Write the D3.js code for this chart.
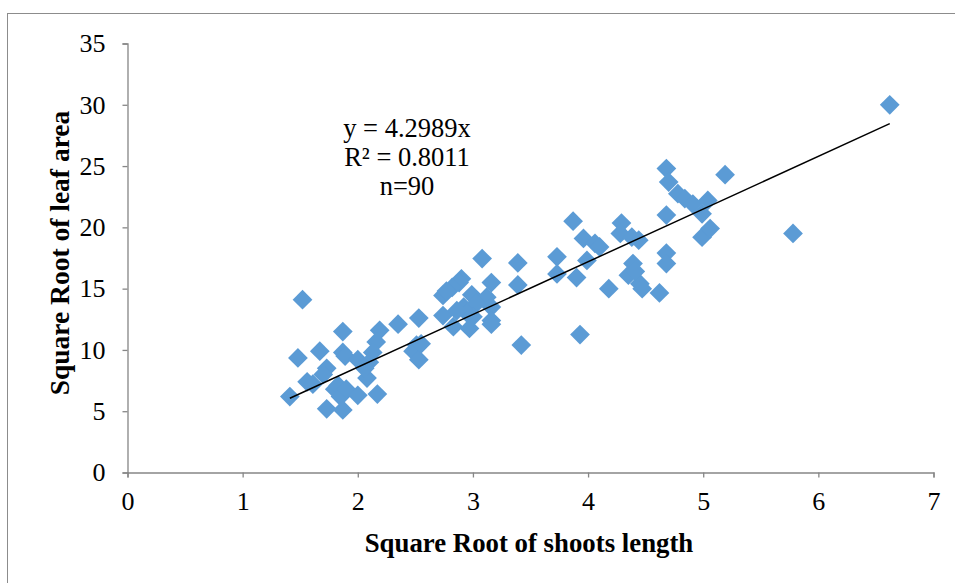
<!DOCTYPE html>
<html><head><meta charset="utf-8">
<script src="https://cdn.jsdelivr.net/npm/d3@7"></script>
<style>
html,body{margin:0;padding:0;background:#fff;}
svg{display:block;}
text{font-family:"Liberation Serif","Times New Roman",serif;fill:#000;}
</style></head>
<body><svg id="chart" width="955" height="583"></svg>
<script>
// Data: square root of shoots length (x) vs square root of leaf area (y)
const xValues = [1.41,1.52,1.48,1.56,1.61,1.67,1.73,1.70,1.73,1.80,1.87,1.87,1.89,1.87,1.83,1.85,1.90,2.00,2.17,2.08,2.00,2.19,2.16,2.13,2.10,2.06,2.35,2.53,2.51,2.48,2.53,2.55,
 2.74,2.74,3.08,3.39,3.16,3.39,2.90,2.88,2.82,2.77,2.99,3.12,2.92,3.03,3.16,2.83,2.97,3.00,3.16,3.16,3.42,2.95,
 3.73,3.73,3.87,4.29,4.68,4.28,4.38,4.44,3.96,4.06,4.10,3.99,3.90,4.18,4.39,4.35,4.45,4.47,4.68,4.68,4.62,3.93,4.99,5.06,4.99,4.68,4.70,5.19,4.78,4.84,4.91,5.04,5.78,6.62,4.41,2.86];
const yValues = [6.2,14.1,9.35,7.4,7.2,9.9,8.5,8.0,5.2,6.8,11.5,9.8,9.5,5.1,7.1,6.2,6.8,6.3,6.4,7.7,9.2,11.6,10.65,9.8,9.0,8.5,12.1,12.6,10.4,9.9,9.2,10.5,
 14.45,12.8,17.45,17.1,15.5,15.3,15.8,15.5,15.1,14.8,14.5,14.3,13.5,13.8,13.5,11.9,11.75,12.7,12.4,12.1,10.4,13.0,
 17.6,16.2,20.5,20.35,21.0,19.5,19.2,18.95,19.1,18.7,18.4,17.3,15.9,15.0,17.05,16.1,15.4,15.0,17.9,17.05,14.65,11.25,19.2,19.9,21.1,24.8,23.7,24.3,22.75,22.35,21.9,22.2,19.5,30.0,16.4,13.2];
const slope = 4.2989;
const annotation = ["y = 4.2989x", "R\u00B2 = 0.8011", "n=90"];
const xTicks = [0,1,2,3,4,5,6,7];
const yTicks = [0,5,10,15,20,25,30,35];
const xTitle = "Square Root of shoots length";
const yTitle = "Square Root of leaf area";

const svg = d3.select("#chart");
const axisColor = "#868686";
const pointColor = "#5b9bd5";

// outer chart border
svg.append("rect").attr("x",7.5).attr("y",13.5).attr("width",1000).attr("height",700)
  .attr("fill","none").attr("stroke","#8c8c8c").attr("stroke-width",1);

const x = d3.scaleLinear().domain([0,7]).range([127.5,933.5]);
const y = d3.scaleLinear().domain([0,35]).range([472.5,43.5]);

// axes
const xAxis = svg.append("g").attr("transform","translate(0,472.5)")
  .call(d3.axisBottom(x).tickValues(xTicks).tickSize(5).tickPadding(14).tickFormat(d3.format("d")));
const yAxis = svg.append("g").attr("transform","translate(127.5,0)")
  .call(d3.axisLeft(y).tickValues(yTicks).tickSize(5).tickPadding(17).tickFormat(d3.format("d")));
[xAxis,yAxis].forEach(g=>{
  g.select(".domain").attr("stroke",axisColor).attr("stroke-width",1.3);
  g.selectAll(".tick line").attr("stroke",axisColor).attr("stroke-width",1.3);
  g.selectAll(".tick text").attr("font-family","Liberation Serif").attr("font-size",26).attr("fill","#000");
});
xAxis.selectAll(".tick text").attr("dy","0.71em");

// points
const data = xValues.map((v,i)=>({x:v,y:yValues[i]}));
const sym = d3.symbol().type(d3.symbolSquare).size(195);
svg.append("g").selectAll("path").data(data).join("path")
  .attr("d",sym)
  .attr("transform",d=>`translate(${x(d.x)},${y(d.y)}) rotate(45)`)
  .attr("fill",pointColor);

// trendline (through origin)
const xmin = d3.min(xValues), xmax = d3.max(xValues);
svg.append("line")
  .attr("x1",x(xmin)).attr("y1",y(slope*xmin))
  .attr("x2",x(xmax)).attr("y2",y(slope*xmax))
  .attr("stroke","#000").attr("stroke-width",1.5);

// annotation
const ann = svg.append("text").attr("text-anchor","middle").attr("font-size",26.5);
annotation.forEach((t,i)=>{
  ann.append("tspan").attr("x",407).attr("y",137 + i*29).text(t);
});

// axis titles
svg.append("text").attr("x",529).attr("y",552).attr("text-anchor","middle")
  .attr("font-size",26.8).attr("font-weight","bold").text(xTitle);
svg.append("text").attr("transform","translate(69,253) rotate(-90)").attr("text-anchor","middle")
  .attr("font-size",27.5).attr("font-weight","bold").text(yTitle);
</script></body></html>
